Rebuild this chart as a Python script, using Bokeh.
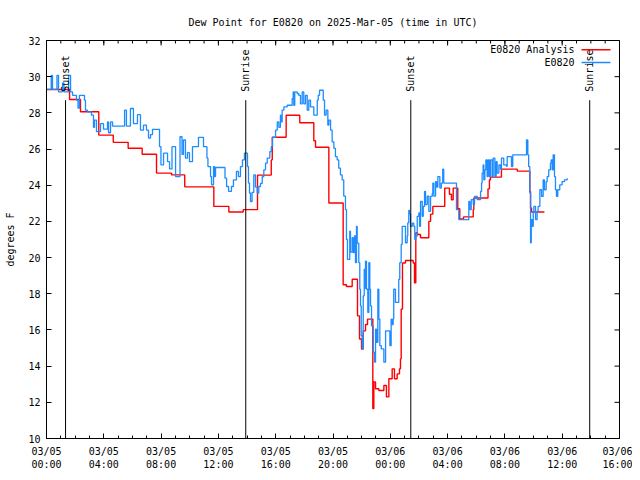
from math import pi
from bokeh.plotting import figure
from bokeh.models import Range1d, FixedTicker, Label
from bokeh.core.properties import value
from bokeh.embed import file_html
from bokeh.resources import INLINE

FONT = "DejaVu Sans Mono"
FS = "10px"

# hours since 2025-03-05 00:00 UTC
analysis_hours = [0.00, 1.61, 2.37, 3.65, 4.66, 5.70, 6.68, 7.68, 8.73, 9.65, 11.68, 12.73,
                  13.73, 14.73, 15.69, 15.76, 16.73, 17.68, 18.66, 18.78, 19.71, 20.71, 20.94,
                  21.34, 21.71, 21.85, 21.99, 22.11, 22.27, 22.41, 22.78, 22.85, 22.97, 23.20,
                  23.55, 23.73, 23.90, 24.13, 24.29, 24.48, 24.64, 24.71, 24.76, 24.85, 25.06,
                  25.60, 25.69, 25.78, 25.90, 26.11, 26.69, 26.81, 26.97, 27.80, 28.13, 28.27,
                  28.39, 28.71, 28.85, 29.11, 29.79, 29.83, 30.82, 30.92, 30.99, 31.76, 32.86,
                  33.74, 33.79, 33.86, 34.76]
analysis_values = [29.29, 28.74, 28.06, 26.77, 26.37, 26.04, 25.71, 24.67, 24.57, 23.91, 22.83, 22.52,
                   22.65, 24.56, 25.40, 26.65, 27.87, 27.45, 26.46, 26.10, 23.02, 18.50, 18.40,
                   18.80, 16.78, 15.50, 14.95, 15.95, 16.30, 16.60, 11.65, 13.12, 12.75, 12.65,
                   12.93, 12.30, 13.30, 13.85, 13.30, 13.57, 13.85, 14.40, 17.15, 19.70, 19.84,
                   19.70, 18.60, 21.37, 21.28, 21.10, 22.00, 22.40, 22.83, 23.84, 23.50, 23.20,
                   23.84, 22.70, 22.14, 22.25, 22.65, 23.29, 23.80, 24.30, 24.45, 24.89, 24.78,
                   23.66, 22.74, 22.52, 22.52]

obs_hours = [0.05, 0.33, 0.42, 0.73, 0.84, 1.12, 1.22, 1.54, 1.68, 1.82, 2.09, 2.20, 2.30, 2.65,
             2.72, 2.86, 3.14, 3.28, 3.35, 3.49, 3.77, 3.98, 4.26, 4.33, 4.47, 4.61, 5.45, 5.58,
             5.86, 6.07, 6.35, 6.56, 6.77, 6.98, 7.12, 7.26, 7.40, 7.89, 7.99, 8.17, 8.45, 8.59,
             8.76, 9.01, 9.32, 9.46, 9.56, 9.70, 9.84, 9.98, 10.19, 10.61, 10.96, 11.20, 11.27,
             11.45, 11.52, 11.66, 11.73, 11.80, 12.46, 12.57, 12.71, 12.91, 13.05, 13.26, 13.40,
             13.54, 13.68, 13.82, 14.03, 14.10, 14.17, 14.24, 14.35, 14.47, 14.59, 14.71, 14.82,
             14.94, 15.06, 15.17, 15.29, 15.41, 15.59, 15.69, 15.78, 15.99, 16.11, 16.22, 16.33,
             16.38, 16.45, 16.57, 16.80, 17.03, 17.15, 17.22, 17.26, 17.33, 17.50, 17.61, 17.73,
             17.85, 17.96, 18.08, 18.20, 18.31, 18.43, 18.66, 18.90, 18.97, 19.06, 19.25, 19.32,
             19.41, 19.52, 19.64, 19.71, 19.83, 19.94, 20.06, 20.17, 20.29, 20.40, 20.52, 20.64,
             20.75, 20.87, 20.94, 21.01, 21.17, 21.22, 21.34, 21.41, 21.50, 21.57, 21.64, 21.69,
             21.80, 21.87, 21.92, 21.97, 22.04, 22.11, 22.18, 22.22, 22.27, 22.34, 22.43, 22.50,
             22.57, 22.62, 22.69, 22.81, 22.90, 22.97, 23.04, 23.13, 23.20, 23.27, 23.37, 23.50,
             23.55, 23.67, 23.90, 23.97, 24.06, 24.13, 24.20, 24.24, 24.36, 24.48, 24.59, 24.66,
             24.76, 24.83, 24.94, 25.06, 25.18, 25.22, 25.29, 25.34, 25.41, 25.53, 25.64, 25.71,
             25.78, 25.88, 25.99, 26.04, 26.11, 26.23, 26.30, 26.39, 26.46, 26.58, 26.69, 26.81,
             26.93, 26.97, 27.04, 27.16, 27.23, 27.32, 27.46, 27.56, 27.66, 27.73, 28.62, 28.78,
             29.48, 29.55, 29.65, 29.79, 29.88, 30.07, 30.25, 30.30, 30.37, 30.41, 30.48, 30.53,
             30.60, 30.67, 30.76, 30.83, 30.92, 30.99, 31.11, 31.18, 31.30, 31.39, 31.46, 31.58,
             31.69, 31.76, 31.92, 32.11, 32.16, 32.46, 32.55, 33.44, 33.51, 33.60, 33.66, 33.74,
             33.79, 33.84, 33.91, 33.98, 34.02, 34.14, 34.25, 34.32, 34.44, 34.56, 34.67, 34.76,
             34.88, 34.95, 35.06, 35.18, 35.23, 35.30, 35.37, 35.46, 35.53, 35.60, 35.69, 35.83,
             35.99, 36.16, 36.35]
obs_values = [29.30, 30.07, 29.30, 30.07, 29.16, 29.65, 29.16, 30.07, 29.16, 28.97, 28.70, 28.26, 28.97, 28.70,
              28.15, 28.06, 27.87, 27.20, 27.60, 26.96, 27.40, 27.10, 27.50, 26.90, 27.50, 27.27, 28.15, 27.27,
              28.24, 27.40, 27.90, 27.05, 27.32, 27.05, 26.60, 26.80, 27.09, 26.13, 25.12, 25.77, 25.30, 24.90,
              26.13, 24.48, 26.68, 25.70, 26.50, 25.50, 25.80, 25.30, 26.13, 26.65, 26.13, 25.50, 25.03,
              24.48, 24.02, 25.03, 24.48, 24.98, 24.39, 23.93, 23.66, 23.93, 24.30, 24.76, 24.48,
              25.03, 25.40, 25.77, 25.03, 24.12, 23.57, 23.10, 23.60, 24.57, 23.90, 23.57, 23.93,
              24.10, 24.48, 24.85, 25.22, 25.50, 25.86, 26.13, 26.65, 27.05, 27.50, 27.20, 27.87,
              27.50, 28.15, 28.33, 28.42, 28.42, 28.79, 29.16, 28.42, 29.16, 29.07, 28.97, 28.50,
              29.16, 28.50, 28.97, 28.15, 28.70, 28.33, 27.87, 28.70, 28.97, 29.25, 29.25, 28.70,
              27.87, 28.15, 27.32, 27.60, 27.05, 26.40, 26.04, 25.58, 25.40, 24.94, 24.57, 24.30,
              23.40, 22.65, 21.00, 19.90, 21.46, 20.30, 21.10, 20.27, 21.20, 19.72, 21.73, 20.80,
              19.72, 18.25, 17.33, 15.68, 14.95, 17.88, 19.35, 18.30, 19.80, 18.25, 16.97, 19.72,
              18.25, 17.33, 16.23, 14.77, 14.22, 16.05, 15.32, 18.25, 16.60, 15.13, 14.95, 14.95,
              14.22, 15.95, 15.95, 15.13, 16.60, 16.30, 16.60, 18.25, 17.52, 17.52, 18.80, 19.72,
              20.73, 21.73, 21.73, 20.82, 21.20, 21.92, 22.61, 22.40, 21.73, 21.90, 21.73, 21.00,
              21.20, 22.28, 22.47, 21.73, 23.10, 22.28, 22.83, 23.66, 22.93, 23.40, 22.56, 23.38,
              23.55, 24.12, 23.40, 24.20, 23.90, 24.48, 23.84, 24.12, 24.89, 24.12, 22.65, 22.10,
              23.10, 22.65, 23.20, 22.93, 23.38, 23.20, 23.20, 23.66, 24.12, 24.67, 25.12, 24.30,
              24.85, 25.40, 24.48, 25.40, 24.48, 25.40, 24.48, 25.50, 24.48, 25.30, 24.67, 25.12,
              24.89, 25.50, 25.12, 25.05, 25.58, 25.03, 25.68, 25.68, 26.50, 25.68, 25.03, 23.57,
              20.82, 22.10, 21.73, 22.56, 22.83, 22.10, 22.56, 22.83, 23.75, 23.38, 24.30, 23.75,
              24.20, 24.48, 24.85, 25.22, 25.40, 24.85, 25.68, 24.48, 23.75, 23.38, 23.75, 24.02,
              24.20, 24.30, 24.39]

event_hours = [1.33, 13.91, 25.43, 37.92]
event_labels = ["Sunset", "Sunrise", "Sunset", "Sunrise"]

x_tick_hours = [0, 4, 8, 12, 16, 20, 24, 28, 32, 36, 40]
x_tick_labels = ["03/05\n00:00", "03/05\n04:00", "03/05\n08:00", "03/05\n12:00", "03/05\n16:00",
                 "03/05\n20:00", "03/06\n00:00", "03/06\n04:00", "03/06\n08:00", "03/06\n12:00",
                 "03/06\n16:00"]
x_minor_hours = list(range(0, 41))
y_ticks = [10, 12, 14, 16, 18, 20, 22, 24, 26, 28, 30, 32]

series_names = ["E0820 Analysis", "E0820"]
series_colors = ["#ff0000", "#1e8cff"]

X0, X1, Y0, Y1 = 0, 40, 10, 32

p = figure(width=632, height=472, output_backend="svg", toolbar_location=None,
           x_range=Range1d(X0, X1), y_range=Range1d(Y0, Y1),
           min_border_left=46, min_border_right=13, min_border_top=40, min_border_bottom=32,
           title="Dew Point for E0820 on 2025-Mar-05 (time in UTC)")
p.title.align = "center"
p.title.text_font = FONT
p.title.text_font_size = FS
p.title.text_font_style = "normal"
p.title.text_color = "black"
p.title.standoff = 26
p.grid.visible = False
p.outline_line_color = "black"
p.outline_line_alpha = 1.0
p.background_fill_color = "white"
p.border_fill_color = "white"

MAJ, MIN = 5, 3


def style_axis(ax):
    ax.major_tick_in = MAJ
    ax.major_tick_out = 0
    ax.minor_tick_in = MIN
    ax.minor_tick_out = 0
    ax.major_tick_line_color = "black"
    ax.minor_tick_line_color = "black"
    ax.axis_line_color = "black"
    ax.major_label_text_font = FONT
    ax.major_label_text_font_size = FS
    ax.major_label_text_color = "black"
    ax.axis_label_text_font = FONT
    ax.axis_label_text_font_size = FS
    ax.axis_label_text_font_style = "normal"
    ax.axis_label_text_color = "black"


xa = p.xaxis[0]
xa.ticker = FixedTicker(ticks=x_tick_hours, minor_ticks=x_minor_hours)
xa.major_label_overrides = dict(zip(x_tick_hours, x_tick_labels))
style_axis(xa)
xa.major_label_standoff = 7

ya = p.yaxis[0]
ya.ticker = FixedTicker(ticks=y_ticks, minor_ticks=[])
style_axis(ya)
ya.major_label_standoff = 6
ya.axis_label = "degrees F"
ya.axis_label_standoff = 9

# mirrored inward ticks on top and right edges (markers clipped by the frame)
p.scatter(x=x_tick_hours, y=[Y1] * len(x_tick_hours), marker="dash", angle=pi / 2,
          size=2 * MAJ, line_color="black", line_width=1)
p.scatter(x=x_minor_hours, y=[Y1] * len(x_minor_hours), marker="dash", angle=pi / 2,
          size=2 * MIN, line_color="black", line_width=1)
p.scatter(x=[X1] * len(y_ticks), y=y_ticks, marker="dash",
          size=2 * MAJ, line_color="black", line_width=1)

# data lines
p.step(analysis_hours, analysis_values, mode="after", line_color=series_colors[0], line_width=1.4)
p.step(obs_hours, obs_values, mode="after", line_color=series_colors[1], line_width=1.3)

# sunrise / sunset markers
EVENT_LINE_TOP = 28.7
EVENT_TEXT_Y = 29.17
p.segment(x0=event_hours, y0=[Y0] * len(event_hours), x1=event_hours,
          y1=[EVENT_LINE_TOP] * len(event_hours), line_color="black", line_width=1)
p.text(x=event_hours, y=[EVENT_TEXT_Y] * len(event_hours), text=event_labels, angle=pi / 2,
       text_align="left", text_baseline="middle", text_font=value(FONT), text_font_size=FS,
       text_color="black")

# legend (gnuplot style: text then sample)
LEG_TEXT_X = 36.86
LEG_X0, LEG_X1 = 37.35, 39.37
LEG_Y = [31.49, 30.79]
for name, color, ly in zip(series_names, series_colors, LEG_Y):
    p.add_layout(Label(x=LEG_TEXT_X, y=ly, text=name, text_align="right", text_baseline="middle",
                       text_font=FONT, text_font_size=FS, text_color="black"))
    p.segment(x0=[LEG_X0], y0=[ly], x1=[LEG_X1], y1=[ly], line_color=color, line_width=1.5)

open("out.html", "w").write(file_html(p, INLINE))
